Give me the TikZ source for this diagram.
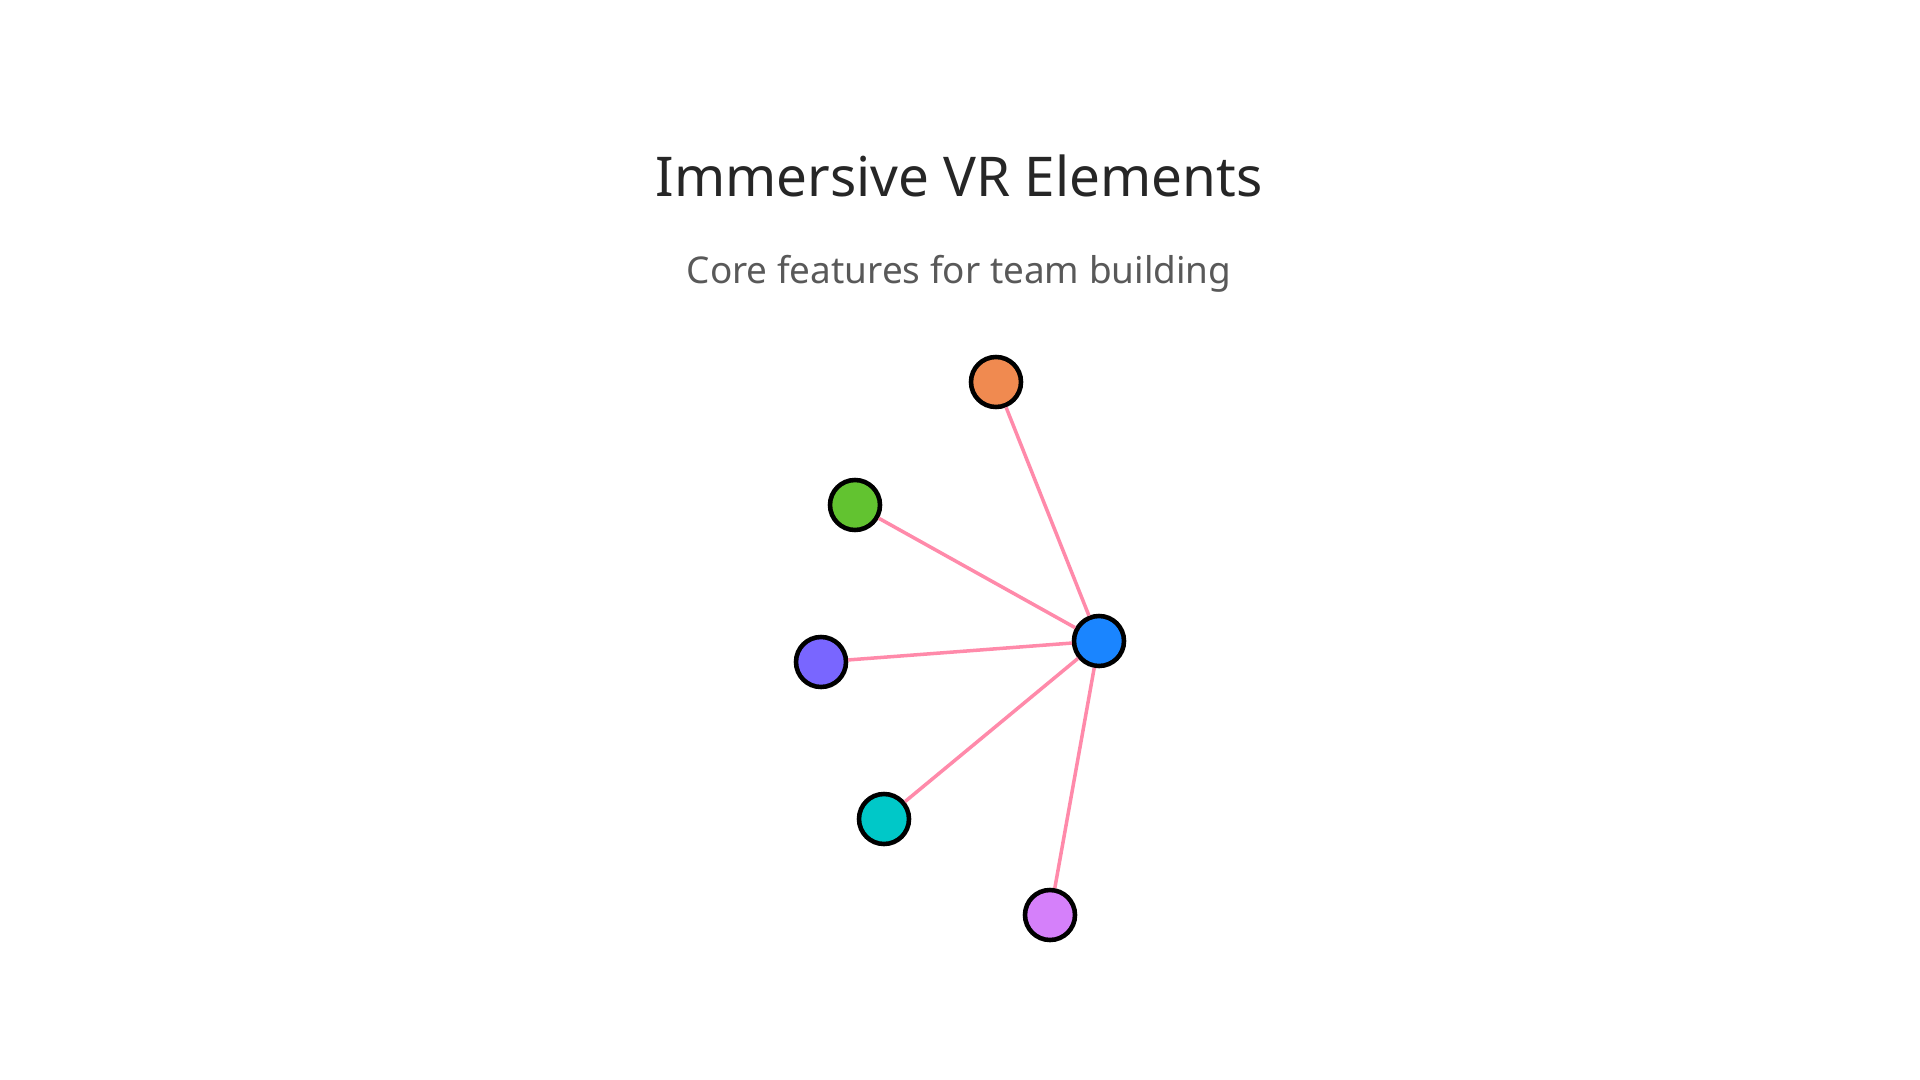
\documentclass[tikz,border=0pt]{standalone}
\usepackage{fontspec}
\setmainfont{Noto Sans}
\usepackage{xcolor}
\definecolor{vrtitle}{HTML}{262626}
\definecolor{vrsub}{HTML}{595959}
\definecolor{vredge}{HTML}{FF8AAA}
\definecolor{vrblue}{HTML}{1A85FF}
\definecolor{vrorange}{HTML}{F08A50}
\definecolor{vrgreen}{HTML}{62C330}
\definecolor{vrpurple}{HTML}{7966FF}
\definecolor{vrteal}{HTML}{00C8C8}
\definecolor{vrviolet}{HTML}{D580FA}
\usepackage{tikz}
\usetikzlibrary{positioning}

\begin{document}
\begin{tikzpicture}[
  dot/.style={circle, draw=black, line width=1.3pt, minimum size=0.5cm,
              inner sep=0pt},
  link/.style={draw=vredge, line width=1.0pt}
]
  \useasboundingbox (0,0) rectangle (19.2,-10.8);

  %% Heading
  \node[font=\fontsize{15.6}{19}\selectfont\color{vrtitle}] (title) at (9.59,-1.76)
    {Immersive VR Elements};
  \node[font=\fontsize{10.5}{12.6}\selectfont\color{vrsub}] (sub) at (9.59,-2.74)
    {Core features for team building};

  %% Feature nodes
  \node[dot, fill=vrblue]   (hub) at (10.99,-6.41) {};
  \node[dot, fill=vrorange] (or)  at (9.96,-3.82)  {};
  \node[dot, fill=vrgreen]  (gr)  at (8.55,-5.05)  {};
  \node[dot, fill=vrpurple] (pu)  at (8.21,-6.62)  {};
  \node[dot, fill=vrteal]   (te)  at (8.84,-8.19)  {};
  \node[dot, fill=vrviolet] (vi)  at (10.50,-9.15) {};

  %% Links to the hub
  \draw[link] (hub) -- (or);
  \draw[link] (hub) -- (gr);
  \draw[link] (hub) -- (pu);
  \draw[link] (hub) -- (te);
  \draw[link] (hub) -- (vi);
\end{tikzpicture}
\end{document}
